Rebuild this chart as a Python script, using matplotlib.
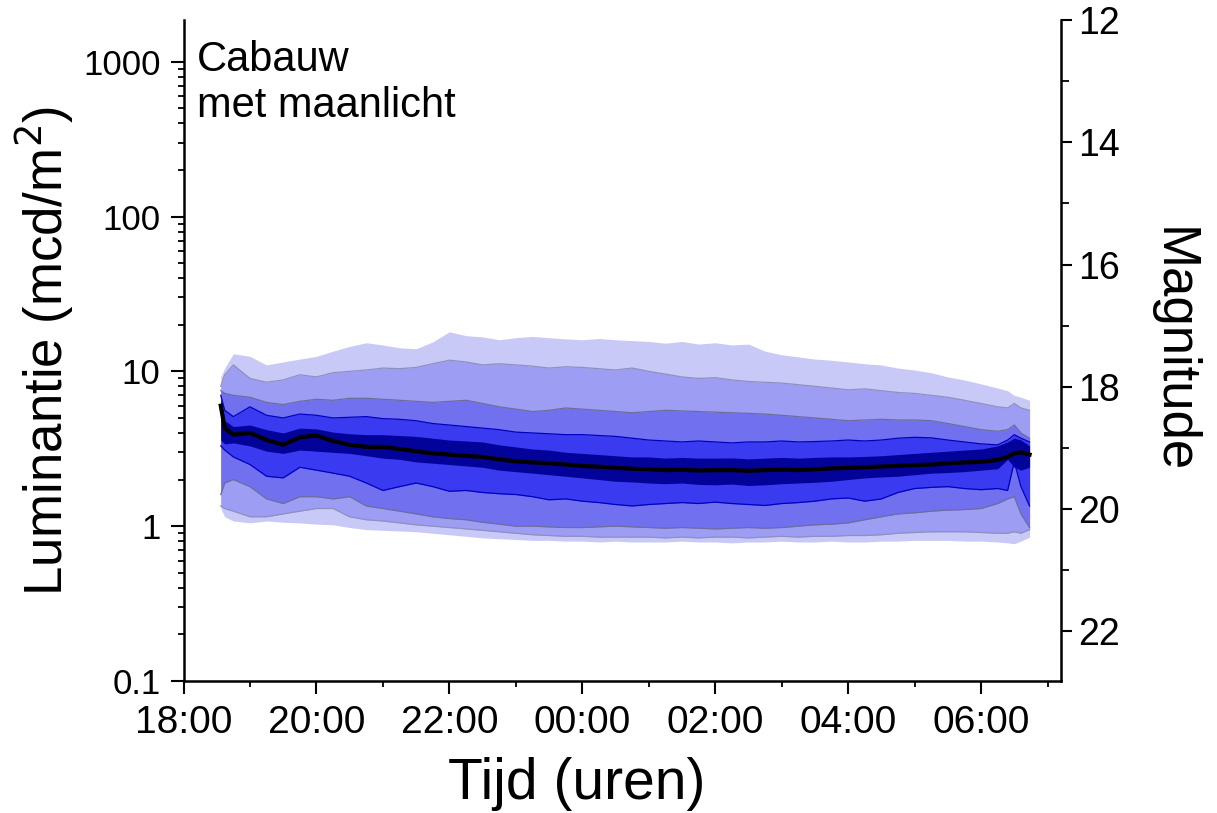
import numpy as np
import matplotlib.pyplot as plt
from matplotlib.ticker import FixedLocator, MultipleLocator, NullFormatter

plt.rcParams['font.family'] = ['Liberation Sans', 'DejaVu Sans']

# --- data ------------------------------------------------------------------
# time in hours, values > 24 are after midnight
tijd = [18.56, 18.62, 18.75, 19.0, 19.25, 19.5, 19.75, 20.0, 20.25, 20.5,
        20.75, 21.0, 21.25, 21.5, 21.75, 22.0, 22.25, 22.5, 22.75, 23.0,
        23.25, 23.5, 23.75, 24.0, 24.25, 24.5, 24.75, 25.0, 25.25, 25.5,
        25.75, 26.0, 26.25, 26.5, 26.75, 27.0, 27.25, 27.5, 27.75, 28.0,
        28.25, 28.5, 28.75, 29.0, 29.25, 29.5, 29.75, 30.0, 30.25, 30.4,
        30.5, 30.6, 30.73]

# luminance percentile bands (mcd/m2), outer -> inner
buiten_hoog = [9.2, 10.5, 13.0, 12.5, 11.0, 11.5, 12.0, 12.5, 13.5, 14.5,
               15.3, 14.8, 14.2, 14.0, 15.5, 18.0, 17.0, 16.7, 16.0, 16.5,
               16.8, 16.5, 16.2, 16.0, 16.3, 16.0, 15.8, 15.6, 15.2, 15.6,
               15.0, 15.3, 14.8, 15.0, 13.5, 12.8, 12.4, 12.0, 11.8, 11.5,
               11.2, 11.0, 10.5, 10.2, 9.8, 9.2, 8.8, 8.3, 7.8, 7.5,
               7.0, 6.8, 6.5]
buiten_laag = [1.3, 1.15, 1.08, 1.05, 1.08, 1.06, 1.05, 1.03, 1.02, 0.98,
               0.95, 0.94, 0.93, 0.92, 0.9, 0.88, 0.86, 0.84, 0.83, 0.82,
               0.81, 0.81, 0.8, 0.8, 0.79, 0.8, 0.79, 0.79, 0.79, 0.8,
               0.79, 0.79, 0.78, 0.79, 0.79, 0.8, 0.79, 0.79, 0.8, 0.79,
               0.79, 0.8, 0.8, 0.81, 0.81, 0.81, 0.8, 0.8, 0.79, 0.78,
               0.77, 0.8, 0.85]
band2_hoog = [8.0, 9.5, 11.0, 9.0, 8.5, 8.8, 9.5, 9.2, 9.8, 10.0,
              10.2, 10.5, 10.4, 10.6, 11.2, 11.8, 11.5, 11.0, 11.2, 11.0,
              10.8, 10.5, 10.7, 10.6, 10.4, 10.2, 10.5, 10.0, 9.6, 9.2,
              9.0, 9.1, 8.8, 8.6, 8.5, 8.4, 8.2, 8.0, 7.8, 7.6,
              7.7, 7.5, 7.3, 7.2, 7.0, 6.8, 6.5, 6.2, 5.9, 5.8,
              6.2, 5.8, 5.6]
band2_laag = [1.35, 1.3, 1.25, 1.15, 1.15, 1.2, 1.25, 1.3, 1.3, 1.15,
              1.1, 1.08, 1.05, 1.02, 1.0, 0.98, 0.96, 0.94, 0.92, 0.9,
              0.88, 0.87, 0.86, 0.86, 0.85, 0.85, 0.85, 0.85, 0.84, 0.85,
              0.84, 0.85, 0.85, 0.84, 0.85, 0.86, 0.85, 0.86, 0.86, 0.87,
              0.87, 0.88, 0.9, 0.91, 0.92, 0.92, 0.92, 0.91, 0.9, 0.9,
              0.92, 0.9, 0.95]
band3_hoog = [7.5, 7.2, 7.0, 6.8, 6.3, 6.1, 6.4, 6.6, 6.5, 6.7,
              6.7, 6.6, 6.5, 6.4, 6.3, 6.4, 6.5, 6.2, 5.9, 5.7,
              5.5, 5.6, 5.8, 5.7, 5.6, 5.5, 5.4, 5.5, 5.6, 5.55,
              5.5, 5.45, 5.4, 5.35, 5.3, 5.2, 5.1, 5.0, 4.9, 4.8,
              4.85, 4.9, 4.85, 4.85, 4.8, 4.6, 4.4, 4.2, 4.1, 4.2,
              4.5, 4.0, 3.7]
band3_laag = [1.6, 1.9, 2.0, 1.8, 1.5, 1.4, 1.55, 1.55, 1.5, 1.55,
              1.35, 1.3, 1.25, 1.2, 1.15, 1.12, 1.1, 1.06, 1.03, 1.0,
              1.0, 0.99, 0.98, 0.98, 0.99, 1.0, 0.99, 0.98, 0.97, 0.98,
              0.97, 0.96, 0.97, 0.98, 0.97, 0.98, 1.0, 1.02, 1.03, 1.05,
              1.1, 1.15, 1.2, 1.22, 1.25, 1.27, 1.28, 1.3, 1.4, 1.5,
              1.55, 1.2, 0.98]
band4_hoog = [7.0, 5.6, 5.1, 5.9, 5.2, 5.0, 5.3, 5.2, 5.0, 5.05,
              5.1, 4.95, 4.9, 4.8, 4.6, 4.5, 4.4, 4.3, 4.2, 4.05,
              4.0, 3.95, 3.9, 3.9, 3.85, 3.8, 3.7, 3.6, 3.55, 3.5,
              3.55, 3.5, 3.45, 3.5, 3.5, 3.55, 3.5, 3.52, 3.55, 3.6,
              3.55, 3.6, 3.7, 3.75, 3.72, 3.6, 3.5, 3.4, 3.35, 3.6,
              3.9, 3.7, 3.5]
band4_laag = [3.3, 3.1, 2.8, 2.5, 2.1, 2.05, 2.4, 2.3, 2.2, 2.1,
              1.9, 1.7, 1.8, 1.9, 1.8, 1.68, 1.7, 1.65, 1.62, 1.6,
              1.55, 1.48, 1.5, 1.45, 1.42, 1.38, 1.35, 1.38, 1.4, 1.42,
              1.4, 1.43, 1.4, 1.38, 1.36, 1.4, 1.42, 1.45, 1.5, 1.52,
              1.45, 1.5, 1.65, 1.75, 1.78, 1.8, 1.75, 1.72, 1.75, 1.7,
              2.6, 1.8, 1.35]
band5_hoog = [6.6, 4.8, 4.4, 4.5, 4.2, 4.0, 4.3, 4.25, 4.05, 3.95,
              3.9, 3.9, 3.85, 3.8, 3.7, 3.6, 3.55, 3.5, 3.35, 3.25,
              3.15, 3.1, 3.0, 2.95, 2.9, 2.85, 2.8, 2.8, 2.75, 2.78,
              2.75, 2.75, 2.76, 2.72, 2.75, 2.78, 2.75, 2.78, 2.8, 2.8,
              2.82, 2.85, 2.9, 2.95, 3.0, 3.05, 3.1, 3.15, 3.3, 3.5,
              3.7, 3.6, 3.3]
band5_laag = [3.6, 3.4, 3.45, 3.3, 3.05, 2.95, 3.1, 3.05, 3.0, 2.95,
              2.85, 2.75, 2.7, 2.6, 2.55, 2.5, 2.45, 2.4, 2.3, 2.25,
              2.2, 2.15, 2.1, 2.05, 2.0, 1.95, 1.93, 1.9, 1.88, 1.9,
              1.86, 1.85, 1.87, 1.83, 1.85, 1.88, 1.9, 1.92, 1.95, 2.0,
              2.05, 2.08, 2.1, 2.15, 2.2, 2.22, 2.25, 2.3, 2.35, 2.7,
              2.4, 2.3, 2.4]
mediaan = [6.0, 4.3, 3.9, 4.0, 3.6, 3.35, 3.75, 3.85, 3.55, 3.35,
           3.25, 3.25, 3.15, 3.05, 2.95, 2.9, 2.85, 2.8, 2.7, 2.62,
           2.58, 2.55, 2.5, 2.45, 2.42, 2.38, 2.35, 2.33, 2.3, 2.31,
           2.29, 2.3, 2.3, 2.28, 2.3, 2.32, 2.3, 2.33, 2.36, 2.38,
           2.4, 2.43, 2.45, 2.48, 2.5, 2.55, 2.58, 2.6, 2.68, 2.8,
           2.95, 3.0, 2.9]

x_ticks = [18, 20, 22, 24, 26, 28, 30]
x_labels = ["18:00", "20:00", "22:00", "00:00", "02:00", "04:00", "06:00"]
mag_ticks = [12, 14, 16, 18, 20, 22]

# --- plot --------------------------------------------------------------------
fig = plt.figure(figsize=(12.17, 8.13), dpi=100)
ax = fig.add_axes([0.1508, 0.1624, 0.7214, 0.8130])

banden = [
    (buiten_laag, buiten_hoog, "#c9c9f8", None),
    (band2_laag, band2_hoog, "#9d9df4", "#8f8fc0"),
    (band3_laag, band3_hoog, "#7171f0", "#6d6d9c"),
    (band4_laag, band4_hoog, "#3a3af0", "#0000c0"),
    (band5_laag, band5_hoog, "#03039a", None),
]
for laag, hoog, kleur, rand in banden:
    ax.fill_between(tijd, laag, hoog, color=kleur, lw=0)
    if rand is not None:
        ax.plot(tijd, hoog, color=rand, lw=0.9)
        ax.plot(tijd, laag, color=rand, lw=0.9)

ax.plot(tijd, mediaan, color="black", lw=3)

ax.set_yscale("log")
ax.set_ylim(0.1, 1860)
ax.set_xlim(18, 31.21)

ax.xaxis.set_major_locator(FixedLocator(x_ticks))
ax.set_xticklabels(x_labels)
ax.xaxis.set_minor_locator(MultipleLocator(1))
ax.set_yticks([0.1, 1, 10, 100, 1000])
ax.set_yticklabels(["0.1", "1", "10", "100", "1000"])
ax.yaxis.set_minor_formatter(NullFormatter())

for s in ["top", "right"]:
    ax.spines[s].set_visible(False)
for s in ["left", "bottom"]:
    ax.spines[s].set_linewidth(1.8)

ax.tick_params(which="major", direction="out", length=9.5, width=1.5,
               labelsize=25, pad=7)
ax.tick_params(axis="x", which="major", labelsize=28, pad=8)
ax.tick_params(which="minor", direction="out", length=4.5, width=1.3)

ax.set_xlabel("Tijd (uren)", fontsize=41)
ax.xaxis.set_label_coords(0.448, -0.115)
ax.set_ylabel("Luminantie (mcd/m$^2$)", fontsize=38)
ax.yaxis.set_label_coords(-0.122, 0.5)

ax.text(0.015, 0.97, "Cabauw\nmet maanlicht", transform=ax.transAxes,
        fontsize=30, va="top", ha="left", linespacing=1.2)

# magnitude axis
ax2 = ax.twinx()
ax2.set_ylim(22.81, 12.0)
ax2.yaxis.set_major_locator(FixedLocator(mag_ticks))
ax2.yaxis.set_minor_locator(MultipleLocator(1))
for s in ["top", "left", "bottom"]:
    ax2.spines[s].set_visible(False)
ax2.spines["right"].set_linewidth(1.8)
ax2.tick_params(which="major", direction="out", length=8, width=1.5,
                labelsize=27, pad=4)
ax2.tick_params(which="minor", direction="out", length=6, width=1.3)
ax2.set_ylabel("Magnitude", fontsize=38, rotation=270, va="bottom")
ax2.yaxis.set_label_coords(1.098, 0.5)

fig.savefig("out.png", dpi=100)
plt.close(fig)
